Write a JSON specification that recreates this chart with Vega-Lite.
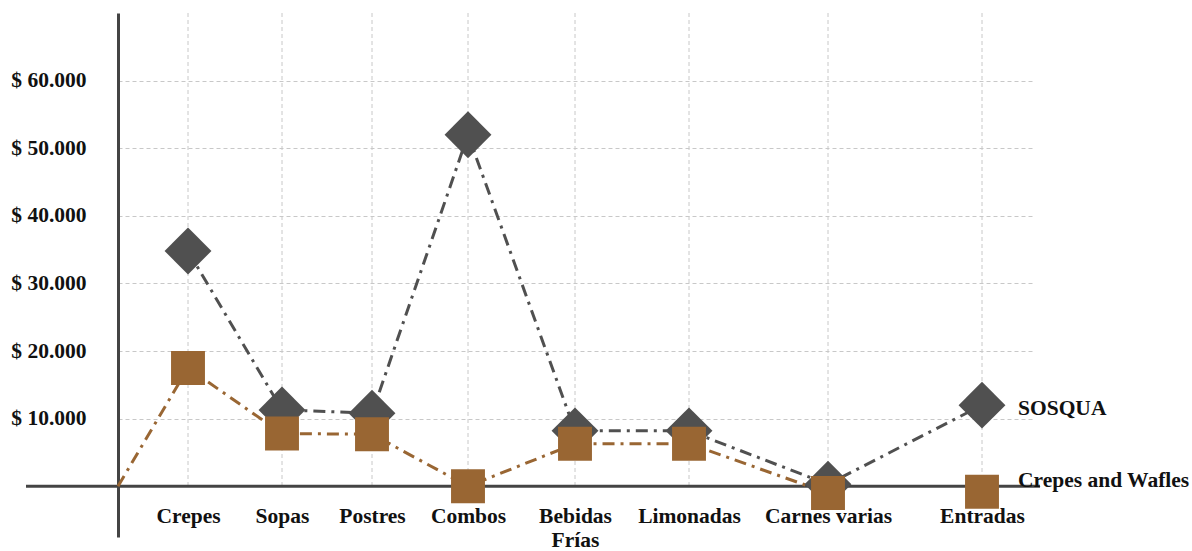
{
  "$schema": "https://vega.github.io/schema/vega-lite/v6.json",
  "width": 915,
  "height": 524,
  "autosize": {"type": "none"},
  "padding": {"left": 118, "top": 13, "right": 159, "bottom": 14},
  "background": "white",
  "config": {
    "view": {"stroke": null},
    "font": "Liberation Serif",
    "axis": {"labelFont": "Liberation Serif", "labelFontWeight": "bold", "labelFontSize": 21.5, "labelColor": "#111111"}
  },
  "datasets": {
    "ventas": [
      {"categoria": "Crepes", "pos": 70, "serie": "SOSQUA", "valor": 34800},
      {"categoria": "Sopas", "pos": 164, "serie": "SOSQUA", "valor": 11300},
      {"categoria": "Postres", "pos": 254, "serie": "SOSQUA", "valor": 10800},
      {"categoria": "Combos", "pos": 350, "serie": "SOSQUA", "valor": 52000},
      {"categoria": "Bebidas Frías", "pos": 457, "serie": "SOSQUA", "valor": 8200},
      {"categoria": "Limonadas", "pos": 571, "serie": "SOSQUA", "valor": 8200},
      {"categoria": "Carnes varias", "pos": 710, "serie": "SOSQUA", "valor": 300},
      {"categoria": "Entradas", "pos": 864, "serie": "SOSQUA", "valor": 12000},
      {"categoria": "inicio", "pos": 0, "serie": "Crepes and Wafles", "valor": 0},
      {"categoria": "Crepes", "pos": 70, "serie": "Crepes and Wafles", "valor": 17500},
      {"categoria": "Sopas", "pos": 164, "serie": "Crepes and Wafles", "valor": 7800},
      {"categoria": "Postres", "pos": 254, "serie": "Crepes and Wafles", "valor": 7700},
      {"categoria": "Combos", "pos": 350, "serie": "Crepes and Wafles", "valor": 0},
      {"categoria": "Bebidas Frías", "pos": 457, "serie": "Crepes and Wafles", "valor": 6300},
      {"categoria": "Limonadas", "pos": 571, "serie": "Crepes and Wafles", "valor": 6300},
      {"categoria": "Carnes varias", "pos": 710, "serie": "Crepes and Wafles", "valor": -1000},
      {"categoria": "Entradas", "pos": 864, "serie": "Crepes and Wafles", "valor": -800}
    ]
  },
  "data": {"name": "ventas"},
  "encoding": {
    "x": {
      "field": "pos", "type": "quantitative",
      "scale": {"domain": [0, 915], "nice": false, "zero": false},
      "axis": {
        "title": null, "grid": false, "domain": false, "ticks": false,
        "values": [70, 164, 254, 350, 457, 571, 710, 864],
        "offset": -50, "labelPadding": 18, "labelBaseline": "top", "labelLineHeight": 24,
        "labelExpr": "datum.value == 70 ? 'Crepes' : datum.value == 164 ? 'Sopas' : datum.value == 254 ? 'Postres' : datum.value == 350 ? 'Combos' : datum.value == 457 ? ['Bebidas', 'Frías'] : datum.value == 571 ? 'Limonadas' : datum.value == 710 ? 'Carnes varias' : 'Entradas'"
      }
    },
    "y": {
      "field": "valor", "type": "quantitative",
      "scale": {"domain": [-7500, 70000], "nice": false, "zero": false},
      "axis": {
        "title": null, "values": [10000, 20000, 30000, 40000, 50000, 60000],
        "ticks": false, "labelPadding": 32,
        "domain": true, "domainColor": "#444444", "domainWidth": 3,
        "grid": true, "gridColor": "#c8c8c8", "gridDash": [4, 3], "gridWidth": 1,
        "labelExpr": "'$ ' + replace(format(datum.value, ','), ',', '.')"
      }
    }
  },
  "layer": [
    {
      "transform": [{"filter": "datum.serie == 'SOSQUA'"}],
      "mark": {"type": "rule", "color": "#c8c8c8", "strokeWidth": 1, "strokeDash": [4, 3]},
      "encoding": {"y": {"datum": 70000}, "y2": {"datum": 0}}
    },
    {
      "transform": [{"filter": "datum.categoria == 'inicio'"}],
      "mark": {"type": "rule", "color": "#444444", "strokeWidth": 3},
      "encoding": {"x": {"datum": -92}, "x2": {"datum": 922}, "y": {"datum": 0}}
    },
    {
      "transform": [{"filter": "!(datum.serie == 'Crepes and Wafles' && datum.categoria == 'Entradas')"}],
      "mark": {"type": "line", "strokeWidth": 3, "strokeDash": [12, 6, 3, 6]},
      "encoding": {
        "color": {"field": "serie", "type": "nominal", "scale": {"domain": ["SOSQUA", "Crepes and Wafles"], "range": ["#505050", "#996633"]}, "legend": null},
        "order": {"field": "pos"}
      }
    },
    {
      "transform": [{"filter": "datum.serie == 'SOSQUA'"}],
      "mark": {"type": "point", "shape": "diamond", "filled": true, "size": 2200, "color": "#505050", "opacity": 1}
    },
    {
      "transform": [{"filter": "datum.serie == 'Crepes and Wafles' && datum.categoria != 'inicio'"}],
      "mark": {"type": "point", "shape": "square", "filled": true, "size": 1150, "color": "#996633", "opacity": 1}
    },
    {
      "transform": [{"filter": "datum.serie == 'SOSQUA' && datum.categoria == 'Entradas'"}],
      "mark": {"type": "text", "align": "left", "baseline": "middle", "dx": 36, "dy": 4, "font": "Liberation Serif", "fontWeight": "bold", "fontSize": 21.5, "color": "#111111"},
      "encoding": {"text": {"field": "serie"}}
    },
    {
      "transform": [{"filter": "datum.serie == 'Crepes and Wafles' && datum.categoria == 'Entradas'"}],
      "mark": {"type": "text", "align": "left", "baseline": "middle", "dx": 36, "dy": -11, "font": "Liberation Serif", "fontWeight": "bold", "fontSize": 21.5, "color": "#111111"},
      "encoding": {"text": {"field": "serie"}}
    }
  ]
}
